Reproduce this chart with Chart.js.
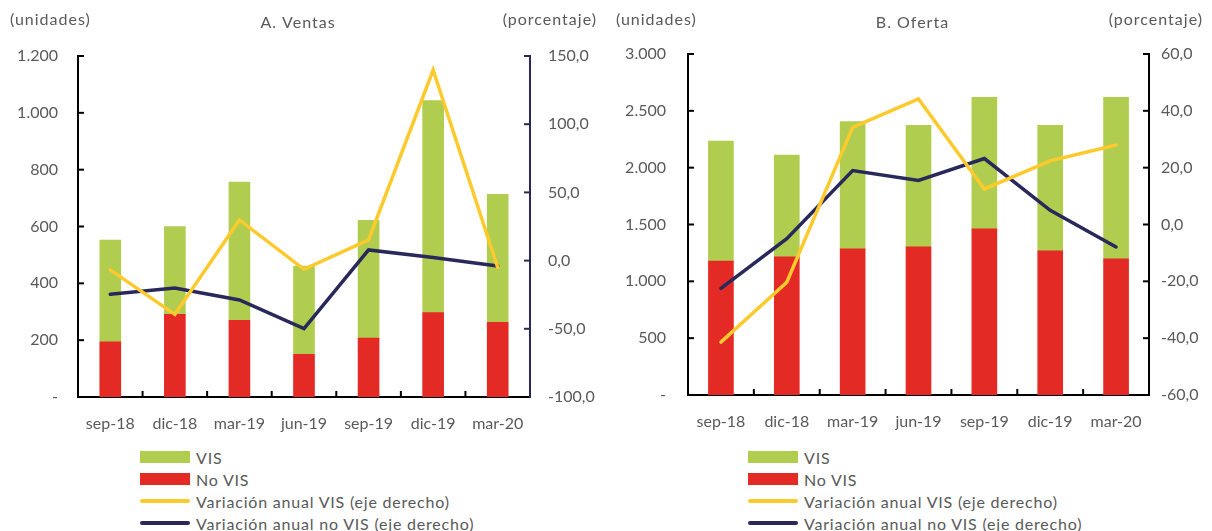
<!DOCTYPE html>
<html lang="es">
<head>
<meta charset="utf-8">
<title>Ventas y oferta de vivienda</title>
<script src="https://cdn.jsdelivr.net/npm/chart.js@4.4.1/dist/chart.umd.min.js"></script>
<style>
  body { margin: 0; background: #fff; font-family: Lato, sans-serif; }
  .panel { position: absolute; top: 0; width: 606px; height: 531px; }
  .leyenda { position: absolute; top: 446px; font-size: 16px; letter-spacing: 0.8px; color: #595959; white-space: nowrap; }
  .leyenda div { height: 22px; display: flex; align-items: center; }
  .muestra { width: 50px; margin-right: 6px; }
</style>
</head>
<body>
<div class="panel" style="left:0">
  <canvas id="graficoVentas" width="606" height="440"></canvas>
  <div class="leyenda" id="leyendaVentas" style="left:140px"></div>
</div>
<div class="panel" style="left:606px">
  <canvas id="graficoOferta" width="606" height="440"></canvas>
  <div class="leyenda" id="leyendaOferta" style="left:142px"></div>
</div>
<script>
// Datos
const categorias = ["sep-18", "dic-18", "mar-19", "jun-19", "sep-19", "dic-19", "mar-20"];

const ventasNoVis = [194, 291, 270, 150, 207, 297, 263];
const ventasVis = [358, 309, 486, 311, 415, 746, 450];
const ventasVarVis = [-6.8, -39.4, 29.8, -6.4, 15.2, 139.7, -5.1];
const ventasVarNoVis = [-24.7, -20.1, -28.9, -49.9, 7.8, 2.2, -3.9];

const ofertaNoVis = [1178, 1216, 1286, 1304, 1462, 1269, 1198];
const ofertaVis = [1055, 894, 1119, 1069, 1157, 1104, 1421];
const ofertaVarVis = [-41.4, -20.3, 34.2, 44.2, 12.5, 22.4, 28.0];
const ofertaVarNoVis = [-22.5, -5.0, 19.0, 15.5, 23.2, 5.0, -7.9];

const VERDE = "#b1cd50";
const ROJO = "#e42a25";
const AMARILLO = "#fdca2e";
const AZUL = "#29285a";
const GRIS = "#595959";

const etiquetasLeyenda = [
  { texto: "VIS", color: VERDE, tipo: "barra" },
  { texto: "No VIS", color: ROJO, tipo: "barra" },
  { texto: "Variación anual VIS (eje derecho)", color: AMARILLO, tipo: "linea" },
  { texto: "Variación anual no VIS (eje derecho)", color: AZUL, tipo: "linea" }
];

// Textos de encabezado: unidades, título y porcentaje
const encabezado = {
  id: "encabezado",
  afterDraw(chart, args, opts) {
    const ctx = chart.ctx;
    const area = chart.chartArea;
    ctx.save();
    ctx.font = "16px Lato";
    ctx.letterSpacing = "1px";
    ctx.fillStyle = GRIS;
    ctx.textBaseline = "middle";
    ctx.textAlign = "left";
    ctx.fillText("(unidades)", 10, 20);
    ctx.textAlign = "center";
    ctx.fillText(opts.titulo, (area.left + area.right) / 2 - 6, 23);
    ctx.textAlign = "right";
    ctx.fillText("(porcentaje)", chart.width - 9, 20);
    ctx.restore();
  }
};

// Marcas pequeñas hacia adentro de los ejes
const marcasInternas = {
  id: "marcasInternas",
  afterDraw(chart, args, opts) {
    const ctx = chart.ctx;
    const x = chart.scales.x;
    const y = chart.scales.y;
    const y2 = chart.scales.y2;
    ctx.save();
    ctx.lineWidth = 2;
    ctx.strokeStyle = "#000";
    y.ticks.forEach(t => {
      if (t.value === y.min) return;
      const py = y.getPixelForValue(t.value);
      ctx.beginPath();
      ctx.moveTo(y.right, py);
      ctx.lineTo(y.right + 6, py);
      ctx.stroke();
    });
    for (let i = 1; i < x.ticks.length; i++) {
      const px = (x.getPixelForTick(i - 1) + x.getPixelForTick(i)) / 2;
      ctx.beginPath();
      ctx.moveTo(px, x.top);
      ctx.lineTo(px, x.top - 6);
      ctx.stroke();
    }
    ctx.strokeStyle = opts.colorDerecho;
    y2.ticks.forEach(t => {
      if (t.value === y2.min) return;
      const py = y2.getPixelForValue(t.value);
      ctx.beginPath();
      ctx.moveTo(y2.left, py);
      ctx.lineTo(y2.left - 6, py);
      ctx.stroke();
    });
    ctx.restore();
  }
};

function formatoMiles(v) {
  if (v === 0) return "-";
  return String(v).replace(/\B(?=(\d{3})+(?!\d))/g, ".");
}

function formatoPorcentaje(v) {
  return v.toFixed(1).replace(".", ",");
}

function crearGrafico(idCanvas, cfg) {
  const ctx = document.getElementById(idCanvas).getContext("2d");
  return new Chart(ctx, {
    type: "bar",
    data: {
      labels: categorias,
      datasets: [
        { label: "No VIS", data: cfg.noVis, backgroundColor: ROJO, yAxisID: "y", stack: "s", order: 2, barThickness: cfg.grosor },
        { label: "VIS", data: cfg.vis, backgroundColor: VERDE, yAxisID: "y", stack: "s", order: 2, barThickness: cfg.grosor },
        { type: "line", label: "Variación anual VIS (eje derecho)", data: cfg.varVis, borderColor: AMARILLO, borderWidth: 3.5, pointRadius: 0, yAxisID: "y2", order: 0, borderCapStyle: "round" },
        { type: "line", label: "Variación anual no VIS (eje derecho)", data: cfg.varNoVis, borderColor: AZUL, borderWidth: 3.5, pointRadius: 0, yAxisID: "y2", order: 1, borderCapStyle: "round" }
      ]
    },
    plugins: [encabezado, marcasInternas],
    options: {
      responsive: false,
      animation: false,
      layout: { padding: { top: cfg.arriba, left: 0, right: 0, bottom: 0 } },
      plugins: {
        legend: { display: false },
        tooltip: { enabled: false },
        encabezado: { titulo: cfg.titulo },
        marcasInternas: { colorDerecho: cfg.colorDerecho }
      },
      scales: {
        x: {
          stacked: true,
          grid: { display: false, drawTicks: false },
          border: { color: "#000", width: 2 },
          ticks: { color: GRIS, font: { family: "Lato", size: 16 }, padding: 17, maxRotation: 0 },
          afterFit(scale) { scale.height = cfg.alturaX; }
        },
        y: {
          stacked: true,
          position: "left",
          min: 0,
          max: cfg.maxIzq,
          grid: { display: false, drawTicks: false },
          border: { color: "#000", width: 2 },
          ticks: { stepSize: cfg.pasoIzq, color: GRIS, font: { family: "Lato", size: 16 }, padding: cfg.padIzq, callback: formatoMiles },
          afterFit(scale) { scale.width = cfg.anchoIzq; }
        },
        y2: {
          position: "right",
          min: cfg.minDer,
          max: cfg.maxDer,
          grid: { display: false, drawTicks: false },
          border: { color: cfg.colorDerecho, width: 2 },
          ticks: { stepSize: cfg.pasoDer, color: GRIS, font: { family: "Lato", size: 16 }, padding: cfg.padDer, callback: formatoPorcentaje },
          afterFit(scale) { scale.width = cfg.anchoDer; }
        }
      }
    }
  });
}

function crearLeyenda(idLeyenda) {
  const cont = document.getElementById(idLeyenda);
  etiquetasLeyenda.forEach(item => {
    const fila = document.createElement("div");
    const muestra = document.createElement("span");
    muestra.className = "muestra";
    muestra.style.background = item.color;
    if (item.tipo === "barra") {
      muestra.style.height = "12px";
    } else {
      muestra.style.height = "4px";
      muestra.style.borderRadius = "2px";
    }
    const texto = document.createElement("span");
    texto.textContent = item.texto;
    fila.appendChild(muestra);
    fila.appendChild(texto);
    cont.appendChild(fila);
  });
}

crearGrafico("graficoVentas", {
  titulo: "A. Ventas",
  noVis: ventasNoVis, vis: ventasVis, varVis: ventasVarVis, varNoVis: ventasVarNoVis,
  maxIzq: 1200, pasoIzq: 200, minDer: -100, maxDer: 150, pasoDer: 50,
  anchoIzq: 78, anchoDer: 76, padIzq: 20, padDer: 18,
  arriba: 56, alturaX: 43, grosor: 21, colorDerecho: AZUL
});

crearGrafico("graficoOferta", {
  titulo: "B. Oferta",
  noVis: ofertaNoVis, vis: ofertaVis, varVis: ofertaVarVis, varNoVis: ofertaVarNoVis,
  maxIzq: 3000, pasoIzq: 500, minDer: -60, maxDer: 60, pasoDer: 20,
  anchoIzq: 82, anchoDer: 63, padIzq: 22, padDer: 12,
  arriba: 54, alturaX: 45, grosor: 25, colorDerecho: "#000"
});

crearLeyenda("leyendaVentas");
crearLeyenda("leyendaOferta");
</script>
</body>
</html>
